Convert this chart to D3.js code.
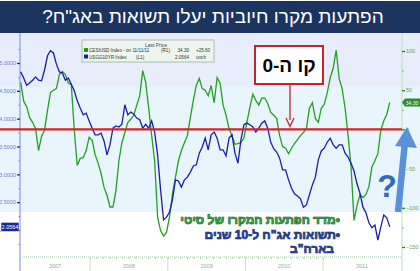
<!DOCTYPE html>
<html>
<head>
<meta charset="utf-8">
<script src="https://cdn.jsdelivr.net/npm/d3@7"></script>
<style>
body { margin: 0; background: #fff; }
svg { display: block; font-family: "Liberation Sans", Arial, sans-serif; }
</style>
</head>
<body>
<svg id="chart" width="420" height="271"></svg>
<script>
// US 10 year yield (left axis) and Citi economic surprise index (right axis), every 2 weeks
const startDate = new Date(2007, 1, 9);
const tsyValues = [
    4.84, 4.73, 4.60, 4.64, 4.69, 4.75, 4.69, 4.68, 4.87, 5.13,
    5.22, 5.18, 4.98, 4.84, 4.82, 4.69, 4.73, 4.62, 4.50, 4.32,
    4.19, 4.07, 4.10, 3.96, 3.83, 3.71, 3.71, 3.74, 3.60, 3.35,
    3.53, 3.83, 3.87, 3.85, 3.90, 4.25, 4.07, 4.12, 4.08, 4.01,
    3.98, 3.83, 3.90, 3.83, 3.96, 3.76, 3.35, 2.72, 2.18, 2.23,
    2.32, 2.54, 2.90, 2.88, 2.77, 2.90, 2.95, 3.04, 3.15, 3.17,
    3.38, 3.49, 3.65, 3.44, 3.71, 3.76, 3.65, 3.44, 3.44, 3.33,
    3.65, 3.71, 3.38, 3.20, 3.62, 3.89, 3.92, 3.89, 3.85, 3.76,
    3.83, 3.92, 3.96, 3.83, 3.58, 3.46, 3.40, 3.29, 3.08, 3.08,
    2.90, 2.75, 2.65, 2.61, 2.56, 2.41, 2.45, 2.63, 2.81, 2.95,
    3.26, 3.42, 3.47, 3.58, 3.65, 3.53, 3.47, 3.53, 3.53, 3.38,
    3.31, 3.20, 3.06, 2.83, 2.66, 2.41, 2.31, 2.13, 2.04, 2.09,
    1.82, 2.05, 2.27, 2.22, 2.0564
];
const cesiValues = [
    60, 36, 29, 15, 9, 1, -27, -9, -1, 24,
    47, 50, 52, 70, 74, 70, 59, 57, -1, -46,
    -37, -36, -27, -10, -14, -32, -43, -56, -74, -84,
    -99, -99, -78, -40, -17, -4, 9, 13, 18, 31,
    43, 75, 60, 27, -8, -40, -112, -129, -136, -131,
    -112, -82, -61, -40, -27, -17, -8, 15, 37, 56,
    65, 52, 50, 43, 56, 34, 66, 59, 31, 18,
    1, -8, -19, -18, -17, -11, 9, 28, 45, 37,
    31, 40, 40, 33, 22, 18, 14, -8, -22, -24,
    -31, -24, -18, -13, -8, -4, 1, 27, 34, 14,
    9, 27, 32, 47, 66, 78, 101, 65, 52, 27,
    -8, -48, -116, -97, -83, -87, -83, -73, -48, -40,
    -31, -1, 11, 19, 34.3
];
const dates = d3.range(tsyValues.length).map(i => d3.timeDay.offset(startDate, 14 * i));

const leftTicks = [5, 4.5, 4, 3.5, 3, 2.5, 2];
const leftMinor = [5.25, 4.75, 4.25, 3.75, 3.25, 2.75, 2.25, 1.75];
const rightTicks = [100, 50, 0, -50, -100, -150];
const rightMinor = [75, 25, -25, -75, -125];
const years = [2007, 2008, 2009, 2010, 2011];

const titleText = 'הפתעות מקרו חיוביות יעלו תשואות באג"ח?';
const zeroText = 'קו ה-0';
const noteLines = ['•מדד הפתעות המקרו של סיטי', '•תשואות אג"ח ל-10 שנים', 'בארה"ב'];
const legendRows = [
    { color: '#1f9a1f', name: 'CESIUSD Index - on 11/11/11', axis: '(R1)', last: '34.30', chg: '+25.60' },
    { color: '#1a1aa6', name: 'USGG10YR Index', axis: '(L1)', last: '2.0564', chg: 'unch' }
];

const svg = d3.select('#chart');

// scales
const x = d3.scaleTime()
    .domain([new Date(2008, 0, 1), new Date(2011, 0, 1)])
    .range([90, 323]);
const yL = d3.scaleLinear().domain([2, 5]).range([230, 63]);
const yR = d3.scaleLinear().domain([-150, 100]).range([247, 51]);

const plotLeft = 20, plotRight = 402, plotTop = 33, axisY = 257;

// background bands
svg.append('rect').attr('x', 0).attr('y', plotTop).attr('width', 420).attr('height', 54).attr('fill', '#e7edfa');
svg.append('rect').attr('x', 0).attr('y', 87).attr('width', 420).attr('height', 125).attr('fill', '#e8f5fd');

// title bar
svg.append('rect').attr('x', 0).attr('y', 1).attr('width', 420).attr('height', 32).attr('fill', '#1b3560');
svg.append('text')
    .attr('x', 213).attr('y', 23)
    .attr('direction', 'rtl')
    .attr('text-anchor', 'middle')
    .attr('fill', '#fff')
    .style('font-size', '19px')
    .text(titleText);

// left axis
svg.append('line').attr('x1', plotLeft).attr('x2', plotLeft).attr('y1', plotTop).attr('y2', 271)
    .attr('stroke', '#8e9dd8').attr('stroke-width', 1.2);
const gl = svg.append('g').attr('transform', `translate(${plotLeft},0)`)
    .call(d3.axisLeft(yL).tickValues(leftTicks).tickFormat(d3.format('.4f')).tickSize(3).tickPadding(1));
gl.select('.domain').remove();
gl.selectAll('line').attr('stroke', '#1a2a9a').attr('stroke-width', 1.3);
gl.selectAll('text').attr('fill', '#6f80cc').style('font-size', '5.5px').style('font-family', 'Liberation Sans, Arial');
const glm = svg.append('g').attr('transform', `translate(${plotLeft},0)`)
    .call(d3.axisLeft(yL).tickValues(leftMinor).tickFormat('').tickSize(1.5));
glm.select('.domain').remove();
glm.selectAll('line').attr('stroke', '#6f80cc');

// right axis
svg.append('line').attr('x1', plotRight).attr('x2', plotRight).attr('y1', plotTop).attr('y2', 271)
    .attr('stroke', '#c4e3c4').attr('stroke-width', 1.2);
const gr = svg.append('g').attr('transform', `translate(${plotRight},0)`)
    .call(d3.axisRight(yR).tickValues(rightTicks).tickSize(3).tickPadding(1));
gr.select('.domain').remove();
gr.selectAll('line').attr('stroke', '#1e8a1e').attr('stroke-width', 1.3);
gr.selectAll('text').attr('fill', '#5aa55a').style('font-size', '5.5px').style('font-family', 'Liberation Sans, Arial');
const grm = svg.append('g').attr('transform', `translate(${plotRight},0)`)
    .call(d3.axisRight(yR).tickValues(rightMinor).tickFormat('').tickSize(1.5));
grm.select('.domain').remove();
grm.selectAll('line').attr('stroke', '#5aa55a');

// x axis
const gx = svg.append('g').attr('transform', `translate(0,${axisY})`)
    .call(d3.axisBottom(x).ticks(d3.timeMonth.every(1)).tickFormat('').tickSize(2).tickSizeOuter(0));
gx.select('.domain').attr('stroke', '#a9d3a9').attr('stroke-dasharray', '1,1');
gx.selectAll('line').attr('stroke', '#a9d3a9');
gx.selectAll('.tick').filter(d => x(d) < plotLeft || x(d) > plotRight).remove();
gx.select('.domain').attr('d', `M${plotLeft},0H${plotRight}`);

svg.append('g').selectAll('line')
    .data(years.slice(1))
    .join('line')
    .attr('x1', d => x(new Date(d, 0, 1))).attr('x2', d => x(new Date(d, 0, 1)))
    .attr('y1', axisY).attr('y2', 271)
    .attr('stroke', '#d3d8d3');
svg.append('g').selectAll('text')
    .data(years)
    .join('text')
    .attr('x', d => (Math.max(plotLeft, x(new Date(d, 0, 1))) + Math.min(plotRight, x(new Date(d + 1, 0, 1)))) / 2)
    .attr('y', 268)
    .attr('text-anchor', 'middle')
    .attr('fill', '#90b090')
    .style('font-size', '5.5px')
    .text(d => d);

// series
const cesiLine = d3.line().x((d, i) => x(dates[i])).y(d => yR(d));
const tsyLine = d3.line().x((d, i) => x(dates[i])).y(d => yL(d));
svg.append('path').attr('d', cesiLine(cesiValues))
    .attr('fill', 'none').attr('stroke', '#22a022').attr('stroke-width', 1.3);
svg.append('path').attr('d', tsyLine(tsyValues))
    .attr('fill', 'none').attr('stroke', '#1c1caa').attr('stroke-width', 1.3);

// zero line
svg.append('line').attr('x1', 0).attr('x2', plotRight).attr('y1', yR(0)).attr('y2', yR(0))
    .attr('stroke', '#d42525').attr('stroke-width', 2.2);

// last value labels
const lastL = tsyValues[tsyValues.length - 1];
const lastR = cesiValues[cesiValues.length - 1];
svg.append('rect').attr('x', 1).attr('y', yL(lastL) - 4.5).attr('width', 18).attr('height', 9)
    .attr('fill', '#1a2a9c').attr('stroke', '#fff').attr('stroke-width', 0.5);
svg.append('text').attr('x', 10).attr('y', yL(lastL) + 2).attr('text-anchor', 'middle')
    .attr('fill', '#fff').style('font-size', '5.5px').text(d3.format('.4f')(lastL));
svg.append('path')
    .attr('d', `M${plotRight},${yR(lastR)}l3,-4h15v8h-15z`)
    .attr('fill', '#2e8c2e');
svg.append('text').attr('x', 412).attr('y', yR(lastR) + 2).attr('text-anchor', 'middle')
    .attr('fill', '#fff').style('font-size', '5px').text(d3.format('.2f')(lastR));

// legend
const lg = svg.append('g').attr('transform', 'translate(82,40)');
lg.append('rect').attr('width', 132).attr('height', 22)
    .attr('fill', '#eef4ee').attr('stroke', '#98b498').attr('stroke-width', 0.8);
lg.append('text').attr('x', 74).attr('y', 7).attr('text-anchor', 'middle')
    .attr('fill', '#444').style('font-size', '5px').text('Last Price');
const rows = lg.selectAll('g.row').data(legendRows).join('g')
    .attr('transform', (d, i) => `translate(0,${12 + i * 6.5})`);
rows.append('rect').attr('x', 2).attr('y', -4).attr('width', 4).attr('height', 4).attr('fill', d => d.color);
rows.append('text').attr('x', 7).text(d => d.name);
rows.append('text').attr('x', (d, i) => i === 0 ? 79 : 54).text(d => d.axis);
rows.append('text').attr('x', 107).attr('text-anchor', 'end').text(d => d.last);
rows.append('text').attr('x', 114).text(d => d.chg);
rows.selectAll('text').attr('fill', '#333').style('font-size', '4.6px');

// zero line callout
svg.append('rect').attr('x', 255).attr('y', 46).attr('width', 68).attr('height', 38)
    .attr('fill', '#fff').attr('stroke', '#c2252d').attr('stroke-width', 2);
svg.append('text').attr('x', 289).attr('y', 72)
    .attr('direction', 'rtl').attr('text-anchor', 'middle')
    .attr('fill', '#000').style('font-size', '19px').style('font-weight', 'bold')
    .text(zeroText);
svg.append('line').attr('x1', 290).attr('x2', 290).attr('y1', 85).attr('y2', 120)
    .attr('stroke', '#c2252d').attr('stroke-width', 1.3);
svg.append('path').attr('d', `M286,118L290,${yR(0) - 3}L294,118`)
    .attr('fill', 'none').attr('stroke', '#c2252d').attr('stroke-width', 1.3);

// big blue arrow and question mark
svg.append('line').attr('x1', 398).attr('y1', 212).attr('x2', 405).attr('y2', 142)
    .attr('stroke', '#5b8fd8').attr('stroke-width', 6.5);
svg.append('path').attr('d', 'M407,127L395,146L417,148Z').attr('fill', '#5b8fd8');
svg.append('text').attr('x', 387).attr('y', 197).attr('text-anchor', 'middle')
    .attr('fill', '#2b6cbd').style('font-size', '32px').style('font-weight', 'bold')
    .text('?');

// notes
const notes = svg.append('g');
notes.selectAll('text').data(noteLines).join('text')
    .attr('x', (d, i) => i === 2 ? 334 : 340)
    .attr('y', (d, i) => 224 + i * 14.5)
    .attr('direction', 'rtl')
    .attr('text-anchor', 'start')
    .attr('fill', (d, i) => i === 0 ? '#2aa02a' : '#1f3d9d')
    .attr('stroke', '#0c1f4a').attr('stroke-width', 0.7)
    .style('paint-order', 'stroke')
    .style('font-size', '12px').style('font-weight', 'bold')
    .text(d => d);
</script>
</body>
</html>
